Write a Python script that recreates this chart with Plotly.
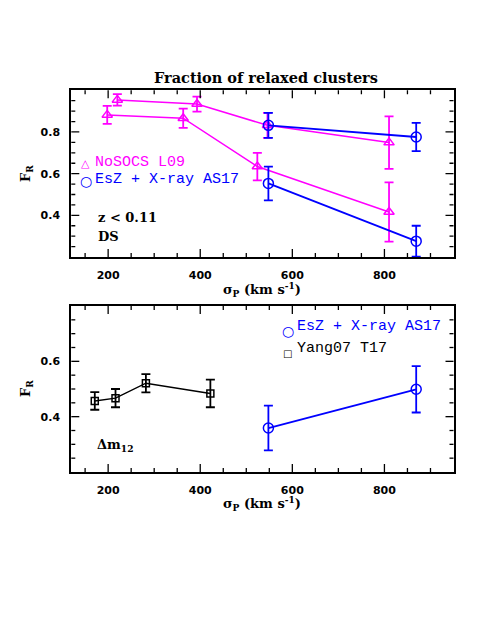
import numpy as np
import plotly.graph_objects as go

# ---- top panel: z < 0.11, DS ----
nosocs_hi_sig = [220, 393, 546, 810]
nosocs_hi_fr = [0.954, 0.934, 0.832, 0.749]
nosocs_hi_err = [0.028, 0.036, 0.060, 0.126]

nosocs_lo_sig = [198, 363, 524, 810]
nosocs_lo_fr = [0.882, 0.866, 0.634, 0.416]
nosocs_lo_err = [0.043, 0.046, 0.066, 0.142]

as17_hi_sig = [548, 869]
as17_hi_fr = [0.832, 0.776]
as17_hi_err = [0.060, 0.068]

as17_lo_sig = [548, 869]
as17_lo_fr = [0.553, 0.276]
as17_lo_err = [0.081, 0.074]

# ---- bottom panel: delta m12 ----
yang_sig = [171, 216, 282, 422]
yang_fr = [0.457, 0.467, 0.521, 0.484]
yang_err = [0.032, 0.033, 0.033, 0.050]

as17_dm_sig = [548, 869]
as17_dm_fr = [0.359, 0.499]
as17_dm_err = [0.081, 0.084]

x_range = [120, 950]
x_ticks = [200, 400, 600, 800]
y_range_top = [0.2, 1.0]
y_ticks_top = [0.4, 0.6, 0.8]
y_range_bot = [0.2, 0.8]
y_ticks_bot = [0.4, 0.6]

MAGENTA = '#FF00FF'
BLUE = '#0000FF'
W, H = 485, 627


def px(x):
    return x / W


def py(y):
    return 1 - y / H


# frame edges in pixels
LEFT, RIGHT = 63.3, 445.5
TOP1, BOT1 = 82.3, 249
TOP2, BOT2 = 298, 464

fig = go.Figure()


def add_series(sig, fr, err, color, symbol, size, xa, ya, lw=1.5):
    fig.add_trace(go.Scatter(
        x=sig, y=fr,
        mode='lines+markers',
        line=dict(color=color, width=lw),
        marker=dict(symbol=symbol, size=size, color=color,
                    line=dict(color=color, width=1.5)),
        error_y=dict(type='data', array=err, color=color, thickness=1.8, width=4.5),
        xaxis=xa, yaxis=ya,
        showlegend=False, hoverinfo='skip'
    ))


add_series(nosocs_hi_sig, nosocs_hi_fr, nosocs_hi_err, MAGENTA, 'triangle-up-open', 9, 'x', 'y')
add_series(nosocs_lo_sig, nosocs_lo_fr, nosocs_lo_err, MAGENTA, 'triangle-up-open', 9, 'x', 'y')
add_series(as17_hi_sig, as17_hi_fr, as17_hi_err, BLUE, 'circle-open', 10, 'x', 'y', lw=1.8)
add_series(as17_lo_sig, as17_lo_fr, as17_lo_err, BLUE, 'circle-open', 10, 'x', 'y', lw=1.8)

add_series(yang_sig, yang_fr, yang_err, 'black', 'square-open', 7, 'x2', 'y2')
add_series(as17_dm_sig, as17_dm_fr, as17_dm_err, BLUE, 'circle-open', 10, 'x2', 'y2', lw=1.8)

tickfont = dict(family='DejaVu Sans', size=11, color='black', weight='bold')
xdom = [px(LEFT), px(RIGHT)]


def main_x(anchor):
    return dict(domain=xdom, anchor=anchor, range=x_range, tickvals=x_ticks,
                ticks='', showline=True, linecolor='black', linewidth=2, mirror=True,
                showgrid=False, zeroline=False, tickfont=tickfont, ticklabelstandoff=7)


def main_y(domain, rng, tv, anchor):
    return dict(domain=domain, anchor=anchor, range=rng, tickvals=tv, tickformat='.1f',
                ticks='', showline=True, linecolor='black', linewidth=2, mirror=True,
                showgrid=False, zeroline=False, tickfont=tickfont, ticklabelstandoff=7)


# inside ticks do not render in this setup, so draw them as pixel-sized shapes
tick_line = dict(color='black', width=1.3)
shapes = []


def x_tick_marks(xr, yr, rng):
    minor = np.round(np.arange(150, rng[1], 50), 6)
    for v in minor:
        L = 8 if v in x_ticks else 4
        for anchor, sign in ((0, 1), (1, -1)):
            shapes.append(dict(type='line', xref=xr, yref=yr + ' domain',
                               x0=v, x1=v, ysizemode='pixel', yanchor=anchor,
                               y0=0, y1=sign * L, line=tick_line, layer='above'))


def y_tick_marks(xr, yr, rng, majors):
    minor = np.round(np.arange(rng[0] + 0.05, rng[1] - 0.001, 0.05), 4)
    for v in minor:
        L = 8 if any(abs(v - m) < 1e-6 for m in majors) else 4
        for anchor, sign in ((0, 1), (1, -1)):
            shapes.append(dict(type='line', xref=xr + ' domain', yref=yr,
                               y0=v, y1=v, xsizemode='pixel', xanchor=anchor,
                               x0=0, x1=sign * L, line=tick_line, layer='above'))


x_tick_marks('x', 'y', x_range)
y_tick_marks('x', 'y', y_range_top, y_ticks_top)
x_tick_marks('x2', 'y2', x_range)
y_tick_marks('x2', 'y2', y_range_bot, y_ticks_bot)

fig.update_layout(
    width=W, height=H,
    margin=dict(l=0, r=0, t=0, b=0),
    plot_bgcolor='white', paper_bgcolor='white',
    xaxis=main_x('y'),
    yaxis=main_y([py(BOT1), py(TOP1)], y_range_top, y_ticks_top, 'x'),
    xaxis2=main_x('y2'),
    yaxis2=main_y([py(BOT2), py(TOP2)], y_range_bot, y_ticks_bot, 'x2'),
    shapes=shapes,
)

serif_b = dict(family='DejaVu Serif', size=13, color='black', weight='bold')
mono = dict(family='Liberation Mono', size=15)


def note(text, x, y, font, xanchor='center', angle=0):
    fig.add_annotation(text=text, x=px(x), y=py(y), xref='paper', yref='paper',
                       showarrow=False, xanchor=xanchor, yanchor='middle',
                       font=font, textangle=angle)


note('Fraction of relaxed clusters', 258, 70, dict(serif_b, size=14.5))

# axis titles
for yc in (166, 381):
    note('F<sub>R</sub>', 19, yc, serif_b, angle=-90)
note('σ<sub>P</sub> (km s<sup>-1</sup>)', 254, 281, serif_b)
note('σ<sub>P</sub> (km s<sup>-1</sup>)', 254, 495, serif_b)

# top panel labels
note('△', 77.5, 156, dict(family='DejaVu Sans', size=11, color=MAGENTA))
note('NoSOCS L09', 85, 154, dict(mono, color=MAGENTA), xanchor='left')
note('○', 77.5, 173, dict(family='DejaVu Sans', size=14, color=BLUE))
note('EsZ + X-ray AS17', 85, 171, dict(mono, color=BLUE), xanchor='left')
note('z &lt; 0.11', 88, 210, serif_b, xanchor='left')
note('DS', 88, 228, serif_b, xanchor='left')

# bottom panel labels
note('○', 279.5, 323, dict(family='DejaVu Sans', size=14, color=BLUE))
note('EsZ + X-ray AS17', 287, 318, dict(mono, color=BLUE), xanchor='left')
note('□', 279.5, 345, dict(family='DejaVu Sans', size=10, color='black'))
note('Yang07 T17', 287, 340, dict(mono, color='black'), xanchor='left')
note('Δm<sub>12</sub>', 87, 437, serif_b, xanchor='left')

fig.write_html('out.html')
